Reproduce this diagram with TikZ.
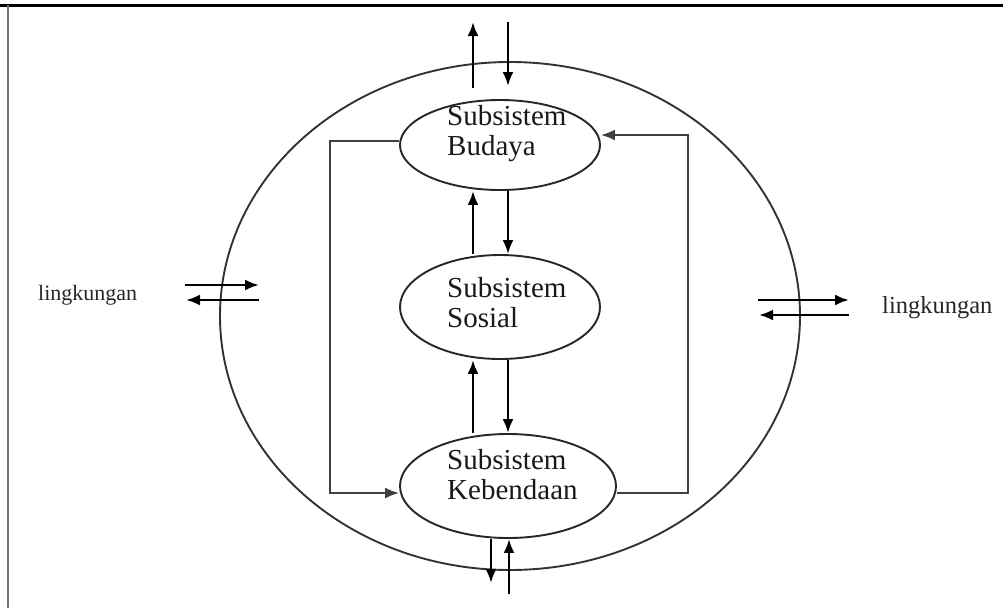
\documentclass[tikz,border=0pt]{standalone}
\usepackage{fontspec}
\setmainfont{Liberation Serif}
\usetikzlibrary{shapes.geometric,arrows.meta}
\begin{document}
\begin{tikzpicture}[x=1pt,y=-1pt,
  ell/.style={draw=black!85,line width=1.9pt,ellipse,inner sep=0pt},
  arr/.style={draw=black,line width=2.6pt,-{Latex[length=14pt,width=11pt]}},
  fb/.style={draw=black!75,line width=1.8pt},
  fbarr/.style={fb,-{Latex[length=14pt,width=11pt]}},
  lbl/.style={anchor=base west,inner sep=0pt,font=\fontsize{29}{30}\selectfont,align=left,text=black!90},
  env/.style={anchor=base west,inner sep=0pt,text=black!85}]
\useasboundingbox (0,0) rectangle (1003,608);
% frame
\draw[line width=3pt,black] (0,5) -- (1003,5);
\draw[line width=2pt,black!55] (8,5) -- (8,608);
% big ellipse
\node[ell,draw=black!80,minimum width=580pt,minimum height=508pt] (big) at (510,316) {};
% subsystems
\node[ell,minimum width=200pt,minimum height=90pt] (bud) at (500,145) {};
\node[ell,minimum width=200pt,minimum height=104pt] (sos) at (500,307) {};
\node[ell,minimum width=216pt,minimum height=104pt] (keb) at (508,486) {};
\node[lbl] (tb) at (447,155) {Subsistem\\Budaya};
\node[lbl] (ts) at (447,327) {Subsistem\\Sosial};
\node[lbl] (tk) at (447,499) {Subsistem\\Kebendaan};
% environment labels
\node[env,font=\fontsize{22}{24}\selectfont] (envl) at (38,300) {lingkungan};
\node[env,font=\fontsize{24.5}{26}\selectfont] (envr) at (882,313) {lingkungan};
% column coordinates
\coordinate (cu) at (473,0);
\coordinate (cd) at (508,0);
% internal arrows
\draw[arr] (sos.north -| cu) -- (bud.south -| cu);
\draw[arr] (bud.south -| cd) -- (sos.north -| cd);
\draw[arr] (keb.north -| cu) -- (sos.south -| cu);
\draw[arr] (sos.south -| cd) -- (keb.north -| cd);
% top arrows
\coordinate (tua) at (473,88);
\coordinate (tub) at (473,22);
\coordinate (tda) at (508,22);
\coordinate (tdb) at (508,86);
\draw[arr] (tua) -- (tub);
\draw[arr] (tda) -- (tdb);
% bottom arrows
\coordinate (bdb) at (491,583);
\coordinate (bua) at (509,594);
\draw[arr] (keb.south -| bdb) -- (bdb);
\draw[arr] (bua) -- (keb.south -| bua);
% left arrows
\coordinate (l1a) at (185,285);
\coordinate (l1b) at (259,285);
\coordinate (l2a) at (259,300);
\coordinate (l2b) at (186,300);
\draw[arr] (l1a) -- (l1b);
\draw[arr] (l2a) -- (l2b);
% right arrows
\coordinate (r1a) at (758,300);
\coordinate (r1b) at (849,300);
\coordinate (r2a) at (849,315);
\coordinate (r2b) at (759,315);
\draw[arr] (r1a) -- (r1b);
\draw[arr] (r2a) -- (r2b);
% feedback loop left
\coordinate (fl1) at (330,141);
\coordinate (fl2) at (330,493);
\draw[fbarr] (bud.west |- fl1) -- (fl1) -- (fl2) -- (keb.west |- fl2);
% feedback loop right
\coordinate (fr1) at (688,493);
\coordinate (fr2) at (688,135);
\draw[fbarr] (keb.east |- fr1) -- (fr1) -- (fr2) -- (bud.east |- fr2);
\end{tikzpicture}
\end{document}
